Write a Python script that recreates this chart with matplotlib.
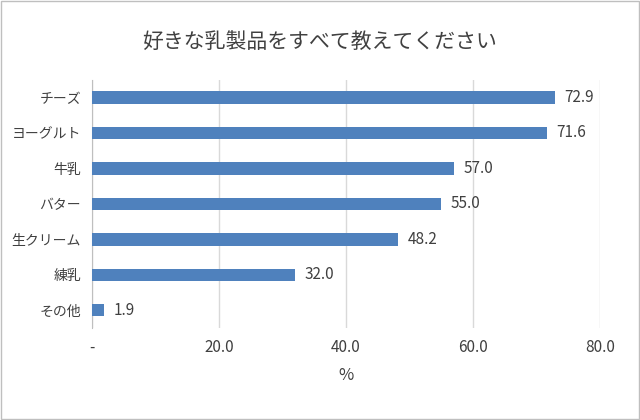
import matplotlib
matplotlib.use("Agg")
import matplotlib.pyplot as plt
from matplotlib.patches import Rectangle

plt.rcParams["font.family"] = "Noto Sans CJK JP"

categories = ["チーズ", "ヨーグルト", "牛乳", "バター", "生クリーム", "練乳", "その他"]
values = [72.9, 71.6, 57.0, 55.0, 48.2, 32.0, 1.9]
xticks = [0, 20, 40, 60, 80]
xticklabels = ["-", "20.0", "40.0", "60.0", "80.0"]

fig = plt.figure(figsize=(6.4, 4.2), dpi=100)
ax = fig.add_axes([0.144, 0.219, 0.7935, 0.591])
y = list(range(len(categories)))
ax.barh(y, values, height=0.35, color="#4f81bd", zorder=3)
for yi, v in zip(y, values):
    ax.text(v + 1.5, yi, f"{v:.1f}", va="center", ha="left", fontsize=11, color="#404040")
ax.set_ylim(len(categories) - 0.5, -0.5)
ax.set_xlim(0, 80)
ax.set_yticks(y)
ax.set_yticklabels(categories, fontsize=10, color="#404040")
ax.set_xticks(xticks)
ax.set_xticklabels(xticklabels, fontsize=11, color="#404040")
ax.tick_params(length=0, pad=8)
ax.xaxis.grid(True, color="#d9d9d9", linewidth=1, zorder=0)
for s in ["top", "right", "bottom"]:
    ax.spines[s].set_visible(False)
ax.spines["left"].set_color("#bfbfbf")
ax.set_xlabel("%", fontsize=12, color="#404040", labelpad=8)
fig.text(0.5, 0.9, "好きな乳製品をすべて教えてください", ha="center", va="center", fontsize=15, color="#404040")
fig.patches.append(Rectangle((0.002, 0.002), 0.996, 0.996, transform=fig.transFigure,
                             fill=False, edgecolor="#bfbfbf", linewidth=1))
fig.savefig("out.png", dpi=100)
